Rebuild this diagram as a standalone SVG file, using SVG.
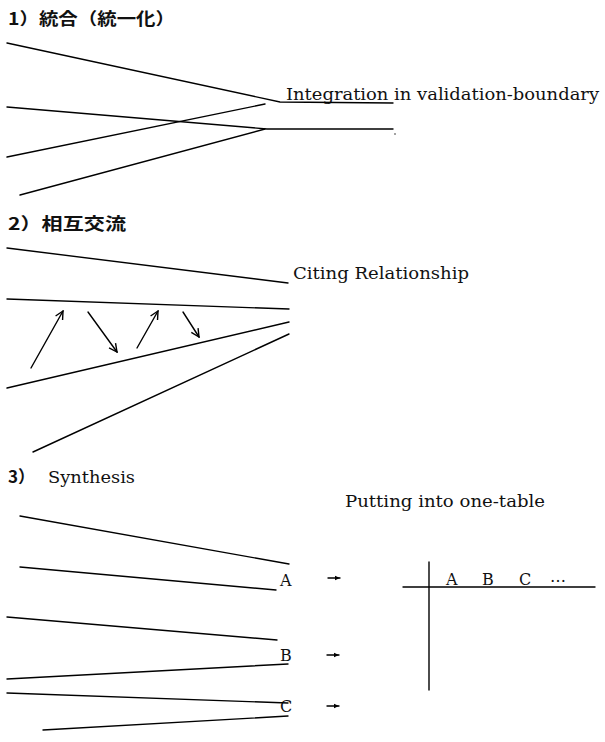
<svg xmlns="http://www.w3.org/2000/svg" width="605" height="742" viewBox="0 0 605 742">
<style>
.ln{stroke:#000;stroke-width:1.4;fill:none;stroke-linecap:round}
.ttl{font-family:"Noto Sans CJK JP","Noto Sans",sans-serif;font-size:17px;font-weight:bold;fill:#111}
.ser{font-family:"DejaVu Serif","Liberation Serif",serif;font-size:16px;fill:#111}
.lab{font-family:"DejaVu Serif","Liberation Serif",serif;font-size:16px;fill:#111}
</style>
<defs>
<marker id="vh" markerWidth="10" markerHeight="10" refX="9" refY="5" orient="auto" markerUnits="userSpaceOnUse">
<polyline points="1,1 9,5 1,9" fill="none" stroke="#000" stroke-width="1.4"/>
</marker>
<marker id="sh" markerWidth="6" markerHeight="6" refX="5" refY="3" orient="auto" markerUnits="userSpaceOnUse">
<polygon points="0,0.8 5,3 0,5.2" fill="#000"/>
</marker>
</defs>
<rect width="605" height="742" fill="#fff"/>

<g id="sec1">
<text class="ttl" x="8" y="25" textLength="167" lengthAdjust="spacingAndGlyphs">1）統合（統一化）</text>
<g id="integ-label"><text class="ser" x="286" y="100" textLength="313" lengthAdjust="spacingAndGlyphs">Integration in validation-boundary</text></g>
</g>
<g id="connectors1">
<polyline class="ln" points="7,43 280,102 393,103"/>
<polyline class="ln" points="7,107 267,129 393,129"/>
<line class="ln" x1="7" y1="157" x2="265" y2="104"/>
<line class="ln" x1="20" y1="195" x2="265" y2="129"/>
<circle cx="395" cy="134" r="0.7" fill="#000"/>
</g>

<g id="sec2">
<text class="ttl" x="8" y="230" textLength="118" lengthAdjust="spacingAndGlyphs">2）相互交流</text>
<g id="citing-label"><text class="ser" x="293" y="279" textLength="176" lengthAdjust="spacingAndGlyphs">Citing Relationship</text></g>
</g>
<g id="connectors2">
<line class="ln" x1="7" y1="248" x2="288" y2="283"/>
<line class="ln" x1="7" y1="299" x2="289" y2="309"/>
<line class="ln" x1="7" y1="388" x2="289" y2="322"/>
<line class="ln" x1="33" y1="452" x2="289" y2="334"/>
<line class="ln" x1="31" y1="368" x2="63" y2="311" marker-end="url(#vh)"/>
<line class="ln" x1="88" y1="312" x2="117" y2="352" marker-end="url(#vh)"/>
<line class="ln" x1="137" y1="348" x2="158" y2="311" marker-end="url(#vh)"/>
<line class="ln" x1="183" y1="312" x2="199" y2="337" marker-end="url(#vh)"/>
</g>

<g id="sec3">
<text class="ttl" x="8" y="483" font-weight="normal">3）</text>
<text class="ser" x="48" y="483" textLength="87" lengthAdjust="spacingAndGlyphs">Synthesis</text>
<g id="table-label"><text class="ser" x="345" y="507" textLength="200" lengthAdjust="spacingAndGlyphs">Putting into one-table</text></g>
<g id="nodeA"><text class="lab" x="280" y="586">A</text></g>
<g id="nodeB"><text class="lab" x="280" y="661">B</text></g>
<g id="nodeC"><text class="lab" x="280" y="712">C</text></g>
<g id="table">
<line class="ln" x1="429" y1="562" x2="429" y2="690"/>
<line class="ln" x1="403" y1="587" x2="595" y2="587"/>
<text class="lab" x="446" y="585">A</text>
<text class="lab" x="482" y="585">B</text>
<text class="lab" x="519" y="585">C</text>
<text class="lab" x="550" y="582">…</text>
</g>
</g>
<g id="connectors3">
<line class="ln" x1="20" y1="516" x2="289" y2="564"/>
<line class="ln" x1="20" y1="567" x2="276" y2="590"/>
<line class="ln" x1="7" y1="617" x2="277" y2="640"/>
<line class="ln" x1="7" y1="679" x2="288" y2="664"/>
<line class="ln" x1="7" y1="693" x2="288" y2="703"/>
<line class="ln" x1="43" y1="730" x2="288" y2="716"/>
<line class="ln" stroke-width="1" x1="328" y1="578" x2="340" y2="578" marker-end="url(#sh)"/>
<line class="ln" stroke-width="1" x1="327" y1="655" x2="339" y2="655" marker-end="url(#sh)"/>
<line class="ln" stroke-width="1" x1="327" y1="706" x2="339" y2="706" marker-end="url(#sh)"/>
</g>
</svg>
